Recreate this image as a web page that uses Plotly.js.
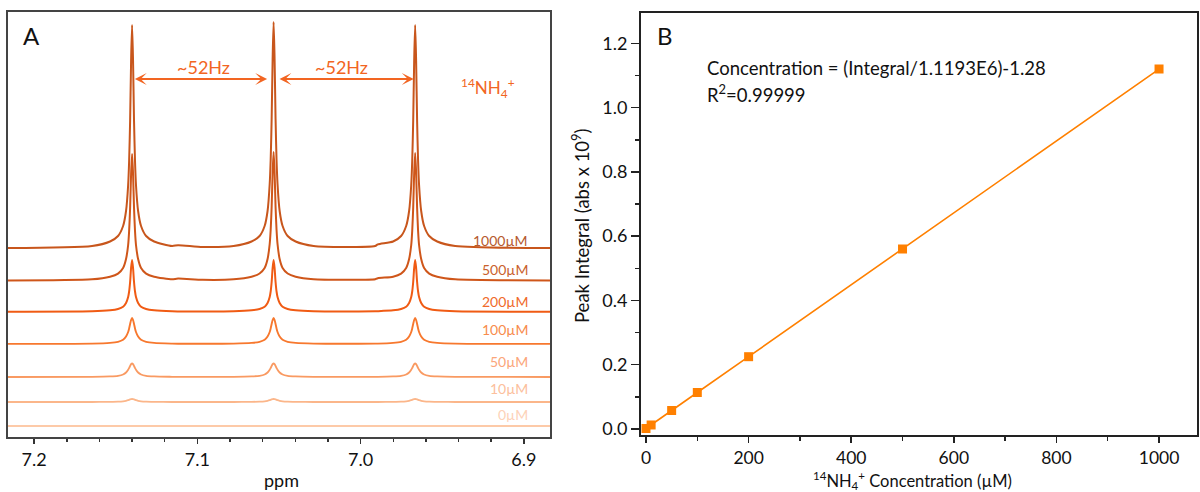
<!DOCTYPE html>
<html>
<head>
<meta charset="utf-8">
<script src="https://cdn.plot.ly/plotly-3.0.1.min.js"></script>
<style>html,body{margin:0;padding:0;background:#fff;}#chart{width:1200px;height:492px;}</style>
</head>
<body>
<div id="chart"></div>
<script>
// ---------------- DATA ----------------
// Panel A: chemical shift sample points (ppm)
const ppm = [7.2160,
 7.1645, 7.1535, 7.1486, 7.1455, 7.1437, 7.1424, 7.1418, 7.1412, 7.1406, 7.1400, 7.1394, 7.1388, 7.1382, 7.1376, 7.1363, 7.1345, 7.1314, 7.1265, 7.1155,
 7.1118, 7.0967,
 7.0778, 7.0668, 7.0619, 7.0588, 7.0570, 7.0557, 7.0551, 7.0545, 7.0539, 7.0533, 7.0527, 7.0521, 7.0515, 7.0509, 7.0496, 7.0478, 7.0447, 7.0398, 7.0288,
 7.0100,
 6.9911, 6.9895, 6.9801, 6.9752, 6.9721, 6.9703, 6.9690, 6.9684, 6.9678, 6.9672, 6.9666, 6.9660, 6.9654, 6.9648, 6.9642, 6.9629, 6.9611, 6.9580, 6.9531, 6.9421,
 6.8840];

// Panel A: intensities (arbitrary units) for each concentration
const int1000 = [1.0,
 3, 7.5, 13, 23, 38, 64, 88, 128, 188, 224, 188, 128, 88, 64, 38, 23, 13, 7.5, 3,
 3.8, 2.0,
 3, 7.5, 13, 23, 38, 65, 89, 130, 190, 227, 190, 130, 89, 65, 38, 23, 13, 7.5, 3,
 2.0,
 3, 4.6, 7.5, 13, 23, 38, 64, 88, 128, 188, 224, 188, 128, 88, 64, 38, 23, 13, 7.5, 3,
 1.0];
const int500 = [0.6,
 1.7, 4.3, 7.4, 13, 22, 36, 50, 73, 107, 127, 107, 73, 50, 36, 22, 13, 7.4, 4.3, 1.7,
 2.5, 1.2,
 1.7, 4.3, 7.5, 13, 22, 37, 51, 74, 109, 129, 109, 74, 51, 37, 22, 13, 7.5, 4.3, 1.7,
 1.2,
 1.7, 2.8, 4.3, 7.4, 13, 22, 36, 50, 73, 108, 128, 108, 73, 50, 36, 22, 13, 7.4, 4.3, 1.7,
 0.6];
const int200 = [0.3,
 0.7, 1.7, 3, 5.3, 9, 15, 20.5, 30, 44, 52, 44, 30, 20.5, 15, 9, 5.3, 3, 1.7, 0.7,
 0.6, 0.5,
 0.7, 1.7, 3, 5.3, 9, 15, 20.5, 30, 44, 52, 44, 30, 20.5, 15, 9, 5.3, 3, 1.7, 0.7,
 0.5,
 0.7, 0.8, 1.7, 3, 5.3, 9, 15, 20.5, 30, 44, 52, 44, 30, 20.5, 15, 9, 5.3, 3, 1.7, 0.7,
 0.3];
const int100 = [0.1,
 0.4, 1.1, 2.2, 4.2, 7.5, 12, 15.5, 20, 24, 26, 24, 20, 15.5, 12, 7.5, 4.2, 2.2, 1.1, 0.4,
 0.3, 0.2,
 0.4, 1.1, 2.2, 4.2, 7.5, 12, 15.5, 20, 24, 26, 24, 20, 15.5, 12, 7.5, 4.2, 2.2, 1.1, 0.4,
 0.2,
 0.4, 0.4, 1.1, 2.2, 4.2, 7.5, 12, 15.5, 20, 24, 26, 24, 20, 15.5, 12, 7.5, 4.2, 2.2, 1.1, 0.4,
 0.1];
const int50 = [0,
 0.2, 0.6, 1.2, 2.5, 4.5, 7.2, 9, 11, 12.8, 13.5, 12.8, 11, 9, 7.2, 4.5, 2.5, 1.2, 0.6, 0.2,
 0.1, 0.1,
 0.2, 0.6, 1.2, 2.5, 4.5, 7.2, 9, 11, 12.8, 13.5, 12.8, 11, 9, 7.2, 4.5, 2.5, 1.2, 0.6, 0.2,
 0.1,
 0.2, 0.2, 0.6, 1.2, 2.5, 4.5, 7.2, 9, 11, 12.8, 13.5, 12.8, 11, 9, 7.2, 4.5, 2.5, 1.2, 0.6, 0.2,
 0];
const int10 = [0,
 0, 0.15, 0.35, 0.7, 1.2, 1.8, 2.2, 2.6, 2.9, 3, 2.9, 2.6, 2.2, 1.8, 1.2, 0.7, 0.35, 0.15, 0,
 0, 0,
 0, 0.15, 0.35, 0.7, 1.2, 1.8, 2.2, 2.6, 2.9, 3, 2.9, 2.6, 2.2, 1.8, 1.2, 0.7, 0.35, 0.15, 0,
 0,
 0, 0, 0.15, 0.35, 0.7, 1.2, 1.8, 2.2, 2.6, 2.9, 3, 2.9, 2.6, 2.2, 1.8, 1.2, 0.7, 0.35, 0.15, 0,
 0];
const int0 = [0,
 0, 0, 0, 0, 0, 0, 0, 0, 0, 0, 0, 0, 0, 0, 0, 0, 0, 0, 0,
 0, 0,
 0, 0, 0, 0, 0, 0, 0, 0, 0, 0, 0, 0, 0, 0, 0, 0, 0, 0, 0,
 0,
 0, 0, 0, 0, 0, 0, 0, 0, 0, 0, 0, 0, 0, 0, 0, 0, 0, 0, 0, 0,
 0];

const spectraLabels = ['1000µM', '500µM', '200µM', '100µM', '50µM', '10µM', '0µM'];
const spectra = [int1000, int500, int200, int100, int50, int10, int0];
const ppmTickVals = [7.2, 7.1, 7.0, 6.9];
const ppmTickText = ['7.2', '7.1', '7.0', '6.9'];

// Panel B: calibration
const concentration = [0, 10, 50, 100, 200, 500, 1000];
const peakIntegral = [0.0015, 0.0125, 0.0575, 0.1135, 0.225, 0.560, 1.120];

// ---------------- STYLE ----------------
const W = 1200, H = 492;
const FONT = 'Lato, "Open Sans", sans-serif';
const stackOffset = [188, 156, 125, 93, 60, 35, 11];
const lineColors = ['#c8561c', '#cf561a', '#f05b14', '#f7782e', '#f99a62', '#fbb68a', '#fdcaa8'];
const lineWidths = [2, 2, 2, 1.9, 1.8, 1.8, 1.8];
const labelColors = ['#b65a2e', '#c9612c', '#f06a2a', '#f88c4c', '#fba67a', '#fcc09c', '#fdd2b8'];
const labelY = [240, 269, 301, 329, 361, 388, 414];
const accent = '#f26522';
const bColor = '#ff8000';

const px = x => x / W;
const py = y => 1 - y / H;

const traces = spectra.map((s, i) => ({
  x: ppm,
  y: s.map(v => v + stackOffset[i]),
  xaxis: 'x', yaxis: 'y',
  mode: 'lines',
  line: {color: lineColors[i], width: lineWidths[i], shape: 'spline', smoothing: 0.7},
  hoverinfo: 'skip', showlegend: false
}));

traces.push({
  x: concentration, y: peakIntegral,
  xaxis: 'x2', yaxis: 'y2',
  mode: 'lines+markers',
  line: {color: bColor, width: 1.6},
  marker: {symbol: 'square', size: 9, color: bColor},
  showlegend: false
});

const annotations = [];
spectraLabels.forEach((t, i) => annotations.push({
  text: t, xref: 'paper', yref: 'paper', x: px(530), y: py(labelY[i]),
  xanchor: 'right', yanchor: 'middle', showarrow: false,
  font: {family: FONT, size: 14, color: labelColors[i]}
}));

// double-headed arrows (data coords of panel A)
const arrowY = 358;
[[7.1392, 7.0573], [7.0506, 6.9675]].forEach(([a, b]) => {
  annotations.push({xref: 'x', yref: 'y', x: b, y: arrowY, axref: 'x', ayref: 'y', ax: a, ay: arrowY,
    text: '', showarrow: true, arrowhead: 3, startarrowhead: 3, arrowside: 'end+start',
    arrowsize: 1.1, startarrowsize: 1.1, arrowwidth: 1.8, arrowcolor: accent, standoff: 0, startstandoff: 0});
});
annotations.push({text: '~52Hz', xref: 'paper', yref: 'paper', x: px(203), y: py(67), xanchor: 'center', yanchor: 'middle',
  showarrow: false, font: {family: FONT, size: 18, color: accent}});
annotations.push({text: '~52Hz', xref: 'paper', yref: 'paper', x: px(342), y: py(67), xanchor: 'center', yanchor: 'middle',
  showarrow: false, font: {family: FONT, size: 18, color: accent}});
annotations.push({text: '<sup>14</sup>NH<sub>4</sub><sup>+</sup>', xref: 'paper', yref: 'paper', x: px(488), y: py(88),
  xanchor: 'center', yanchor: 'middle', showarrow: false, font: {family: FONT, size: 17, color: accent}});
annotations.push({text: 'A', xref: 'paper', yref: 'paper', x: px(31), y: py(35), xanchor: 'center', yanchor: 'middle',
  showarrow: false, font: {family: FONT, size: 24, color: '#111'}});
annotations.push({text: 'B', xref: 'paper', yref: 'paper', x: px(665), y: py(35), xanchor: 'center', yanchor: 'middle',
  showarrow: false, font: {family: FONT, size: 24, color: '#111'}});
annotations.push({text: 'Concentration = (Integral/1.1193E6)-1.28', xref: 'paper', yref: 'paper', x: px(705), y: py(68),
  xanchor: 'left', yanchor: 'middle', showarrow: false, font: {family: FONT, size: 18.5, color: '#111'}});
annotations.push({text: 'R<sup>2</sup>=0.99999', xref: 'paper', yref: 'paper', x: px(705), y: py(94),
  xanchor: 'left', yanchor: 'middle', showarrow: false, font: {family: FONT, size: 18.5, color: '#111'}});
annotations.push({text: 'ppm', xref: 'paper', yref: 'paper', x: px(281), y: py(480), xanchor: 'center', yanchor: 'middle',
  showarrow: false, font: {family: FONT, size: 18, color: '#111'}});
annotations.push({text: '<sup>14</sup>NH<sub>4</sub><sup>+</sup> Concentration (µM)', xref: 'paper', yref: 'paper',
  x: px(912), y: py(480), xanchor: 'center', yanchor: 'middle', showarrow: false, font: {family: FONT, size: 16.5, color: '#111'}});
annotations.push({text: 'Peak Integral (abs x 10<sup>9</sup>)', xref: 'paper', yref: 'paper', x: px(580), y: py(226),
  xanchor: 'center', yanchor: 'middle', textangle: -90, showarrow: false, font: {family: FONT, size: 18.5, color: '#111'}});

const tickFont = {family: FONT, size: 18, color: '#111'};
const layout = {
  width: W, height: H,
  margin: {l: 0, r: 0, t: 0, b: 0},
  paper_bgcolor: '#fff', plot_bgcolor: '#fff',
  showlegend: false,
  xaxis: {
    domain: [px(8), px(550)], range: [7.216, 6.884], anchor: 'y',
    tickmode: 'array', tickvals: ppmTickVals, ticktext: ppmTickText,
    ticks: 'outside', ticklen: 5, tickwidth: 1.5, tickcolor: '#333',
    minor: {tick0: 6.9, dtick: 0.02, ticks: 'outside', ticklen: 3, tickwidth: 1.5, tickcolor: '#333', showgrid: false},
    showline: true, mirror: true, linecolor: '#444', linewidth: 2,
    showgrid: false, zeroline: false, tickfont: tickFont, fixedrange: true
  },
  yaxis: {
    domain: [py(437), py(12)], range: [0, 425], anchor: 'x',
    showticklabels: false, ticks: '',
    showline: true, mirror: true, linecolor: '#444', linewidth: 2,
    showgrid: false, zeroline: false, fixedrange: true
  },
  xaxis2: {
    domain: [px(641), px(1197)], range: [-9.75, 1074], anchor: 'y2',
    tick0: 0, dtick: 200,
    ticks: 'outside', ticklen: 6, tickwidth: 1.5, tickcolor: '#222',
    minor: {tick0: 0, dtick: 100, ticks: 'outside', ticklen: 4, tickwidth: 1.5, tickcolor: '#222', showgrid: false},
    showline: true, mirror: true, linecolor: '#222', linewidth: 2,
    showgrid: false, zeroline: false, tickfont: {family: FONT, size: 17.5, color: '#111'}, fixedrange: true
  },
  yaxis2: {
    domain: [py(435), py(12.7)], range: [-0.01867, 1.2953], anchor: 'x2',
    tick0: 0, dtick: 0.2, tickformat: '.1f',
    ticks: 'outside', ticklen: 8, tickwidth: 1.5, tickcolor: '#222',
    minor: {tick0: 0, dtick: 0.1, ticks: 'outside', ticklen: 4, tickwidth: 1.5, tickcolor: '#222', showgrid: false},
    showline: true, mirror: true, linecolor: '#222', linewidth: 2,
    showgrid: false, zeroline: false, tickfont: tickFont, fixedrange: true
  },
  annotations: annotations
};

Plotly.newPlot('chart', traces, layout, {displayModeBar: false, staticPlot: true});
</script>
</body>
</html>
